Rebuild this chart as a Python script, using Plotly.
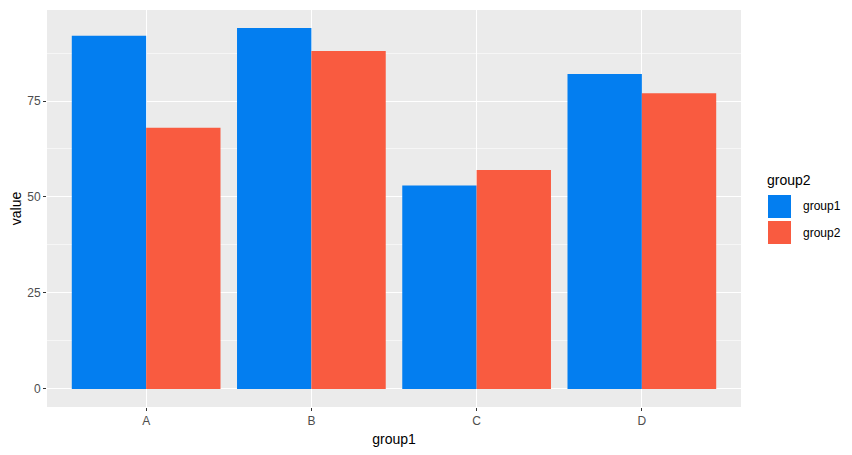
import plotly.graph_objects as go

categories = ["A", "B", "C", "D"]
series_names = ["group1", "group2"]
group1_values = [92, 94, 53, 82]
group2_values = [68, 88, 57, 77]
y_ticks = [0, 25, 50, 75]

colors = ["#037ef0", "#f95b40"]

fig = go.Figure()
for name, vals, col in zip(series_names, [group1_values, group2_values], colors):
    fig.add_trace(go.Bar(x=categories, y=vals, name=name, marker_color=col,
                         marker_line_width=0, showlegend=False))

# page body adds 8px offset, so the figure is a little smaller than the window
fig.update_layout(
    width=844, height=447,
    margin=dict(l=39, r=111, t=2, b=48),
    paper_bgcolor="white",
    plot_bgcolor="#ebebeb",
    barmode="group",
    bargap=0.1,
    bargroupgap=0,
    font=dict(family="Liberation Sans, Arial, sans-serif", color="#4d4d4d", size=12),
)
fig.update_xaxes(
    type="category", range=[-0.6, 3.6],
    showgrid=True, gridcolor="white", gridwidth=1.1,
    ticks="outside", ticklen=3, tickcolor="#333333", tickwidth=1,
    zeroline=False, showline=False,
    title=dict(text="group1", font=dict(size=14, color="black"), standoff=6),
)
fig.update_yaxes(
    range=[-4.7, 98.7], tickvals=y_ticks,
    showgrid=True, gridcolor="white", gridwidth=1.1,
    minor=dict(dtick=12.5, tick0=12.5, showgrid=True, gridcolor="#f6f6f6", gridwidth=0.6),
    ticks="outside", ticklen=3, tickcolor="#333333", tickwidth=1,
    zeroline=False, showline=False,
    title=dict(text="value", font=dict(size=14, color="black"), standoff=6),
)

# ggplot-style legend on the right (paper units: plot area is 694 x 397 px)
fig.add_annotation(xref="paper", yref="paper", x=(765 - 47) / 694, y=(407 - 180) / 397,
                   text="group2", showarrow=False, xanchor="left", yanchor="middle",
                   font=dict(size=14, color="black"))
for i, (name, col) in enumerate(zip(series_names, colors)):
    top = 195 + i * 26
    fig.add_shape(type="rect", xref="paper", yref="paper",
                  x0=(768 - 47) / 694, x1=(791 - 47) / 694,
                  y0=(407 - top - 23) / 397, y1=(407 - top) / 397,
                  fillcolor=col, line_width=0)
    fig.add_annotation(xref="paper", yref="paper", x=(801 - 47) / 694,
                       y=(407 - top - 11.5) / 397, text=name, showarrow=False,
                       xanchor="left", yanchor="middle",
                       font=dict(size=12, color="black"))

fig.write_html("out.html")
